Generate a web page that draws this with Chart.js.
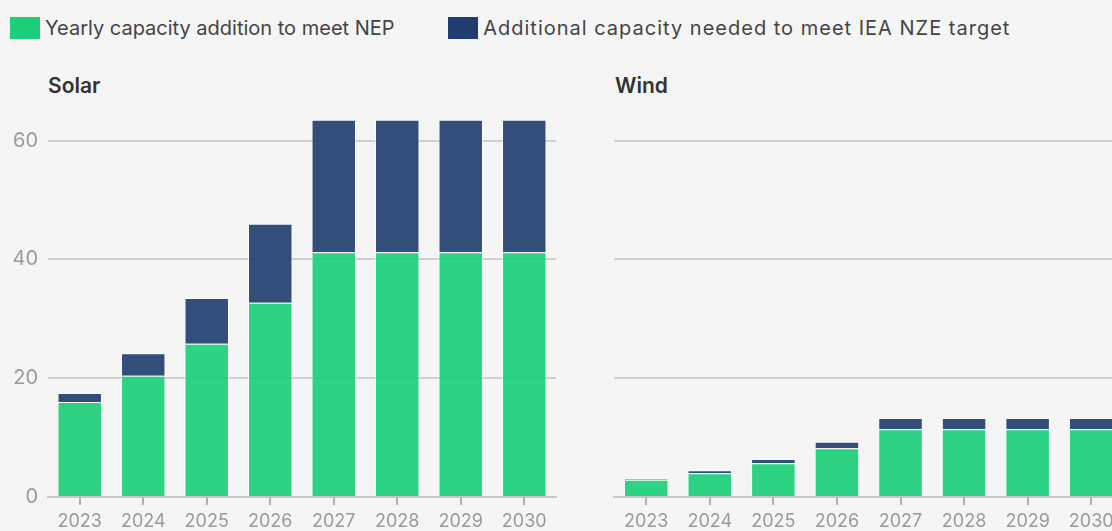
<!DOCTYPE html>
<html>
<head>
<meta charset="utf-8">
<script src="https://cdn.jsdelivr.net/npm/chart.js@4"></script>
<style>
    html, body {
        margin: 0;
        padding: 0;
        width: 1112px;
        height: 531px;
        overflow: hidden;
        background: #f5f5f5;
        font-family: Inter, "Noto Sans", sans-serif;
    }
    .legend {
        position: absolute;
        top: 16px;
        left: 10px;
        font-size: 20px;
        color: #444;
        white-space: nowrap;
    }
    .legend span.sw {
        display: inline-block;
        width: 30px;
        height: 22px;
        vertical-align: -4px;
        margin-right: 5px;
    }
    .legend span.item {
        margin-right: 48px;
    }
    .title {
        position: absolute;
        top: 73px;
        font-size: 21px;
        font-weight: 600;
        color: #333;
    }
    .box {
        position: absolute;
    }
</style>
</head>
<body>
<div class="legend">
    <span class="item"><span class="sw" style="background:#1bcf78"></span>Yearly capacity addition to meet NEP</span>
    <span class="item" style="margin-right:0"><span class="sw" style="background:#1e3c6e"></span><span style="letter-spacing:1px">Additional capacity needed to meet IEA NZE target</span></span>
</div>
<div class="title" style="left:48px">Solar</div>
<div class="title" style="left:615px">Wind</div>
<div class="box" style="left:0; top:83px; width:566px; height:448px"><canvas id="solarChart"></canvas></div>
<div class="box" style="left:610px; top:105px; width:523px; height:426px"><canvas id="windChart"></canvas></div>

<script>
// data (GW per year)
const years = ['2023', '2024', '2025', '2026', '2027', '2028', '2029', '2030'];
const solarNep = [16.0, 20.4, 25.8, 32.7, 41.2, 41.2, 41.2, 41.2];
const solarExtra = [1.5, 3.8, 7.7, 13.3, 22.3, 22.3, 22.3, 22.3];
const windNep = [2.9, 4.0, 5.7, 8.2, 11.4, 11.4, 11.4, 11.4];
const windExtra = [0.2, 0.5, 0.7, 1.1, 1.9, 1.9, 1.9, 1.9];
const yTicks = [0, 20, 40, 60];

const greenBar = 'rgba(27, 207, 120, 0.92)';
const blueBar = 'rgba(30, 60, 110, 0.9)';

// small tick marks under the baseline, one per year
const tickMarks = {
    id: 'tickMarks',
    afterDraw: function (chart) {
        const x = chart.scales.x;
        const bottom = chart.chartArea.bottom;
        const c = chart.ctx;
        c.save();
        c.strokeStyle = '#b0b0b0';
        c.lineWidth = 2;
        for (let i = 0; i < x.ticks.length; i++) {
            const px = Math.round(x.getPixelForTick(i));
            c.beginPath();
            c.moveTo(px, bottom);
            c.lineTo(px, bottom + 8);
            c.stroke();
        }
        c.restore();
    }
};

function makeChart(id, nep, extra, showYLabels) {
    const ctx = document.getElementById(id).getContext('2d');
    return new Chart(ctx, {
        type: 'bar',
        data: {
            labels: years,
            datasets: [{
                label: 'Yearly capacity addition to meet NEP',
                data: nep,
                backgroundColor: greenBar,
                borderColor: 'rgba(255,255,255,0.7)',
                borderWidth: 1,
                borderSkipped: 'bottom',
                barPercentage: 0.7,
                categoryPercentage: 1.0
            }, {
                label: 'Additional capacity needed to meet IEA NZE target',
                data: extra,
                backgroundColor: blueBar,
                borderColor: 'rgba(255,255,255,0.7)',
                borderWidth: 1,
                barPercentage: 0.7,
                categoryPercentage: 1.0
            }]
        },
        plugins: [tickMarks],
        options: {
            responsive: true,
            maintainAspectRatio: false,
            animation: false,
            layout: { padding: { right: 10, top: 0, bottom: 0, left: 0 } },
            plugins: {
                legend: { display: false },
                tooltip: { enabled: false }
            },
            scales: {
                x: {
                    stacked: true,
                    grid: {
                        offset: false,
                        drawOnChartArea: false,
                        drawTicks: false
                    },
                    border: { color: '#c8c8c8', width: 2 },
                    ticks: {
                        color: '#9a9a9a',
                        font: { family: 'Inter', size: 18 },
                        padding: 14,
                        maxRotation: 0
                    },
                    afterFit: function (scale) { scale.height = 34; }
                },
                y: {
                    stacked: true,
                    min: 0,
                    max: 66,
                    afterBuildTicks: function (axis) {
                        axis.ticks = yTicks.map(v => ({ value: v }));
                    },
                    grid: {
                        color: '#cfcfcf',
                        lineWidth: 2,
                        drawTicks: false
                    },
                    border: { display: false },
                    ticks: {
                        display: showYLabels,
                        color: '#9a9a9a',
                        font: { family: 'Inter', size: 20 },
                        padding: 10
                    },
                    afterFit: function (scale) { scale.width = showYLabels ? 48 : 0; }
                }
            }
        }
    });
}

makeChart('solarChart', solarNep, solarExtra, true);
makeChart('windChart', windNep, windExtra, false);
</script>
</body>
</html>
